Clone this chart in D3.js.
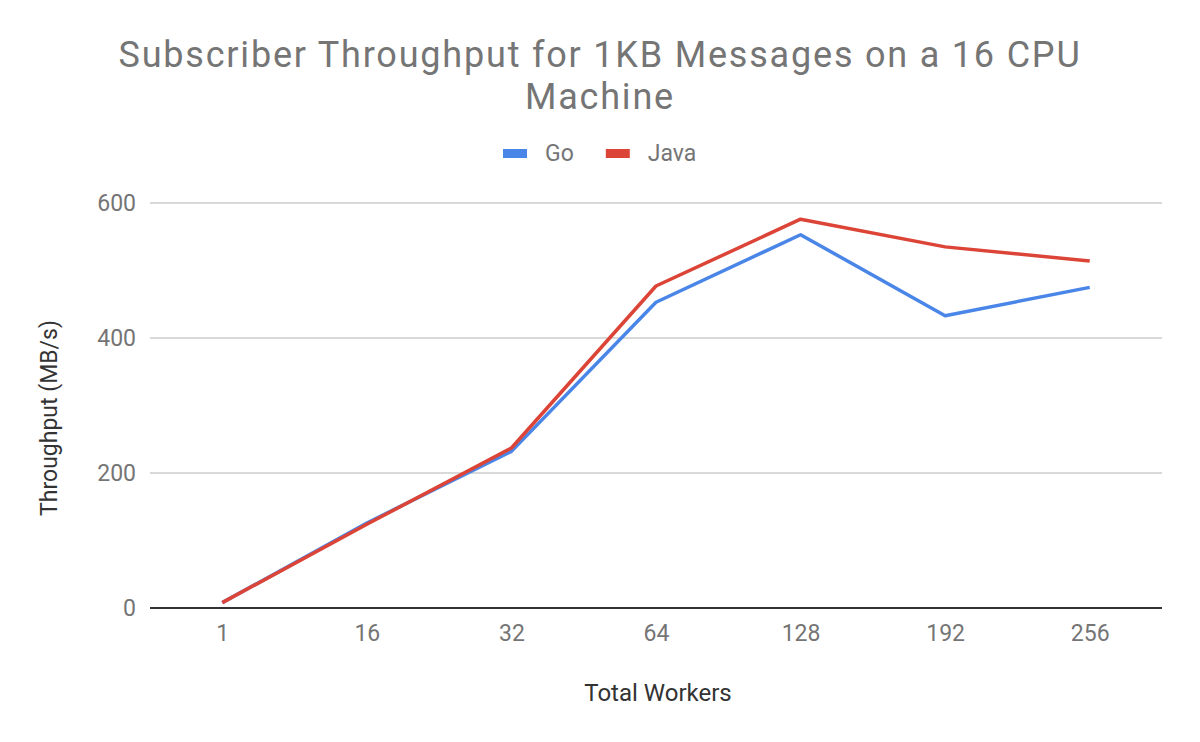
<!DOCTYPE html>
<html><head><meta charset="utf-8">
<script src="https://cdn.jsdelivr.net/npm/d3@7/dist/d3.min.js"></script>
<style>body{margin:0;background:#fff}svg{display:block}text{font-family:Roboto,"Noto Sans",sans-serif}</style>
</head><body>
<svg id="c" width="1200" height="742"></svg>
<script>
const categories = ["1","16","32","64","128","192","256"];
const goValues = [8, 126, 232, 453, 553, 433, 475];
const javaValues = [8, 124, 237, 477, 576, 535, 514];
const yTicks = [0, 200, 400, 600];
const seriesNames = ["Go","Java"];
const seriesColors = ["#4a86e8","#dc4437"];
const titleLines = ["Subscriber Throughput for 1KB Messages on a 16 CPU", "Machine"];

const svg = d3.select("#c");
const L = 150, R = 1162, T = 203, B = 608;
const x = d3.scalePoint().domain(categories).range([L, R]).padding(0.5);
const y = d3.scaleLinear().domain([0, 600]).range([B, T]);

// title (two separate lines)
const titleY = [67, 109];
titleLines.forEach((s,i)=>{
  svg.append("text").attr("x",600).attr("y",titleY[i]).attr("text-anchor","middle")
    .attr("fill","#757575").style("font-size","36px").style("letter-spacing","1.8px").text(s);
});

// gridlines
svg.append("g").selectAll("line").data(yTicks.filter(d=>d>0)).join("line")
  .attr("x1",L).attr("x2",R).attr("y1",d=>y(d)).attr("y2",d=>y(d))
  .attr("stroke","#cccccc").attr("stroke-width",1.3);

// y axis
const yAxis = svg.append("g").attr("transform",`translate(${L},0)`)
  .call(d3.axisLeft(y).tickValues(yTicks).tickSize(0).tickPadding(14));
yAxis.select(".domain").remove();
yAxis.selectAll("text").attr("fill","#757575").style("font-size","23px");

// x axis
const xAxis = svg.append("g").attr("transform",`translate(0,${B})`)
  .call(d3.axisBottom(x).tickSize(0).tickPadding(17));
xAxis.select(".domain").remove();
xAxis.selectAll("text").attr("fill","#757575").style("font-size","23px");
svg.append("line").attr("x1",L).attr("x2",R).attr("y1",y(0)).attr("y2",y(0))
  .attr("stroke","#333333").attr("stroke-width",2);

// axis titles
svg.append("text").attr("x",658).attr("y",701).attr("text-anchor","middle")
  .attr("fill","#333333").style("font-size","24px").text("Total Workers");
svg.append("text").attr("transform","translate(57,418) rotate(-90)").attr("text-anchor","middle")
  .attr("fill","#333333").style("font-size","23px").text("Throughput (MB/s)");

// lines
const line = d3.line().x((d,i)=>x(categories[i])).y(d=>y(d));
[goValues, javaValues].forEach((vals,k)=>{
  svg.append("path").datum(vals).attr("d",line).attr("fill","none")
    .attr("stroke",seriesColors[k]).attr("stroke-width",3.5).attr("stroke-linejoin","round");
});

// legend
const lg = svg.append("g");
let cx = 503;
seriesNames.forEach((n,k)=>{
  lg.append("rect").attr("x",cx).attr("y",149).attr("width",24).attr("height",9).attr("fill",seriesColors[k]);
  const t = lg.append("text").attr("x",cx+42).attr("y",161).attr("fill","#757575").style("font-size","23px").text(n);
  cx = cx + 42 + t.node().getComputedTextLength() + 32;
});
</script>
</body></html>
